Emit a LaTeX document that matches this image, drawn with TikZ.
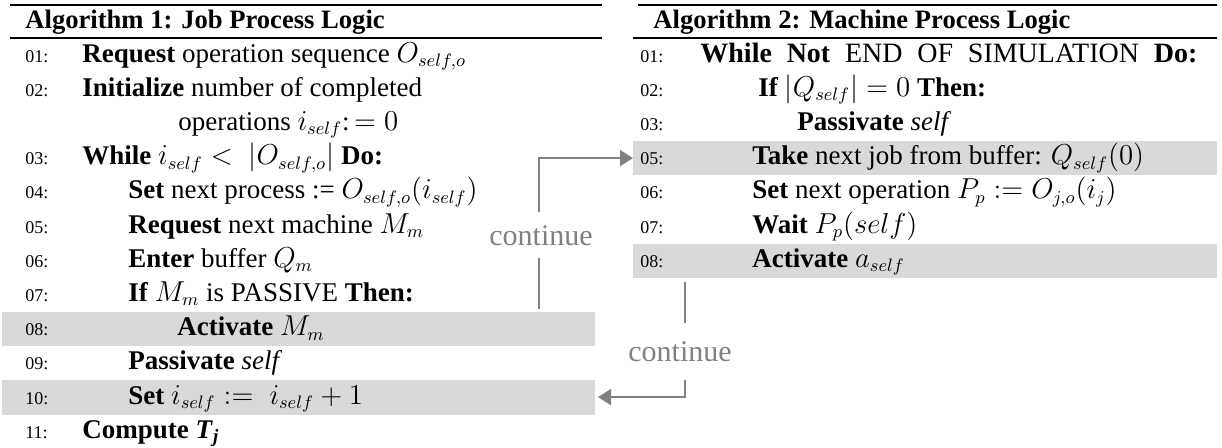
\documentclass[tikz,border=0pt]{standalone}
\usepackage{fontspec}
\setmainfont{Liberation Serif}
\usetikzlibrary{arrows.meta}
\definecolor{bandgray}{HTML}{D9D9D9}
\definecolor{flowgray}{HTML}{808080}
\tikzset{
  numlbl/.style={font=\fontsize{9}{10}\selectfont, anchor=base west, inner sep=0pt},
  codeline/.style={font=\fontsize{13.5}{16}\selectfont, anchor=base west, inner sep=0pt},
  algtitle/.style={font=\fontsize{13.3}{16}\selectfont\bfseries, anchor=base west, inner sep=0pt},
  leftband/.style={fill=bandgray, draw=none, anchor=north west, inner sep=0pt,
                   minimum width=296.5pt, minimum height=17.1pt},
  rightband/.style={fill=bandgray, draw=none, anchor=north west, inner sep=0pt,
                    minimum width=292pt, minimum height=17.1pt},
  tablerule/.style={line width=1pt},
  flow/.style={draw=flowgray, line width=0.9pt},
  flowarrow/.style={flow, -{Triangle[length=6.5pt, width=8pt]}},
  flowlbl/.style={font=\fontsize{15}{17}\selectfont, text=flowgray, inner sep=0pt}
}
\begin{document}
\begin{tikzpicture}[x=0.5pt, y=-0.5pt]
\useasboundingbox (0,0) rectangle (1222,448);

% shaded rows
\node[leftband]  (lb8)  at (2,  {38+34.2*8}) {};
\node[leftband]  (lb10) at (2,  {38+34.2*10}) {};
\node[rightband] (rb5)  at (633,{38+34.2*3}) {};
\node[rightband] (rb8)  at (633,{38+34.2*6}) {};

% ---------------- Algorithm 1 ----------------
\draw[tablerule] (10,5) -- (602,5);
\draw[tablerule] (10,38) -- (602,38);
\node[algtitle] (t1) at (25,29) {Algorithm 1: Job Process Logic};

\node[numlbl] (l01) at (25,{62.1+34.2*0}) {01:};
\node[codeline] (j01) at (82,{62.1+34.2*0}) {\textbf{Request} operation sequence $O_{self,o}$};
\node[numlbl] (l02) at (25,{62.1+34.2*1}) {02:};
\node[codeline] (j02) at (82,{62.1+34.2*1}) {\textbf{Initialize} number of completed};
\node[codeline] (j02b) at (178,{62.1+34.2*2}) {operations $i_{self}$:\,$=0$};
\node[numlbl] (l03) at (25,{62.1+34.2*3}) {03:};
\node[codeline] (j03) at (82,{62.1+34.2*3}) {\textbf{While} $i_{self}<\;|O_{self,o}|$ \textbf{Do:}};
\node[numlbl] (l04) at (25,{62.1+34.2*4}) {04:};
\node[codeline] (j04) at (128,{62.1+34.2*4}) {\textbf{Set} next process := $O_{self,o}(i_{self})$};
\node[numlbl] (l05) at (25,{62.1+34.2*5}) {05:};
\node[codeline] (j05) at (128,{62.1+34.2*5}) {\textbf{Request} next machine $M_m$};
\node[numlbl] (l06) at (25,{62.1+34.2*6}) {06:};
\node[codeline] (j06) at (128,{62.1+34.2*6}) {\textbf{Enter} buffer $Q_m$};
\node[numlbl] (l07) at (25,{62.1+34.2*7}) {07:};
\node[codeline] (j07) at (128,{62.1+34.2*7}) {\textbf{If} $M_m$ is PASSIVE \textbf{Then:}};
\node[numlbl] (l08) at (25,{62.1+34.2*8}) {08:};
\node[codeline] (j08) at (177,{62.1+34.2*8}) {\textbf{Activate} $M_m$};
\node[numlbl] (l09) at (25,{62.1+34.2*9}) {09:};
\node[codeline] (j09) at (128,{62.1+34.2*9}) {\textbf{Passivate} \textit{self}};
\node[numlbl] (l10) at (25,{62.1+34.2*10}) {10:};
\node[codeline] (j10) at (128,{62.1+34.2*10}) {\textbf{Set} $i_{self}:=\;i_{self}+1$};
\node[numlbl] (l11) at (25,{62.1+34.2*11}) {11:};
\node[codeline] (j11) at (82,{62.1+34.2*11}) {\textbf{Compute \textit{T}\textsubscript{\textit{j}}}};

% ---------------- Algorithm 2 ----------------
\draw[tablerule] (638,5) -- (1217,5);
\draw[tablerule] (633,38) -- (1217,38);
\node[algtitle] (t2) at (653,29) {Algorithm 2: Machine Process Logic};

\node[numlbl] (m01) at (640,{62.1+34.2*0}) {01:};
\node[codeline, font=\fontsize{14}{16}\selectfont] (k01) at (700,{62.1+34.2*0})
  {\makebox[248.5pt][s]{\textbf{While Not} END OF SIMULATION \textbf{Do:}}};
\node[numlbl] (m02) at (640,{62.1+34.2*1}) {02:};
\node[codeline] (k02) at (758,{62.1+34.2*1}) {\textbf{If} $|Q_{self}|=0$ \textbf{Then:}};
\node[numlbl] (m03) at (640,{62.1+34.2*2}) {03:};
\node[codeline] (k03) at (797,{62.1+34.2*2}) {\textbf{Passivate} \textit{self}};
\node[numlbl] (m05) at (640,{62.1+34.2*3}) {05:};
\node[codeline] (k05) at (752,{62.1+34.2*3}) {\textbf{Take} next job from buffer: $Q_{self}(0)$};
\node[numlbl] (m06) at (640,{62.1+34.2*4}) {06:};
\node[codeline] (k06) at (752,{62.1+34.2*4}) {\textbf{Set} next operation $P_p:=O_{j,o}(i_j)$};
\node[numlbl] (m07) at (640,{62.1+34.2*5}) {07:};
\node[codeline] (k07) at (752,{62.1+34.2*5}) {\textbf{Wait} $P_p(self)$};
\node[numlbl] (m08) at (640,{62.1+34.2*6}) {08:};
\node[codeline] (k08) at (752,{62.1+34.2*6}) {\textbf{Activate} $a_{self}$};

% ---------------- control flow between the two processes ----------------
\node[flowlbl] (c1) at (541,236) {continue};
\coordinate (u0) at (539,309);
\coordinate (u1) at (539,258);
\coordinate (u2) at (539,212);
\draw[flow] (u0) -- (u1);
\draw[flowarrow] (u2) |- (rb5.west);

\node[flowlbl] (c2) at (680,352) {continue};
\coordinate (d0) at (685,282);
\coordinate (d1) at (685,323);
\coordinate (d2) at (685,380);
\coordinate (d3) at (598,{38+34.2*10.5});
\draw[flow] (d0) -- (d1);
\draw[flowarrow] (d2) |- (d3);
\end{tikzpicture}
\end{document}
